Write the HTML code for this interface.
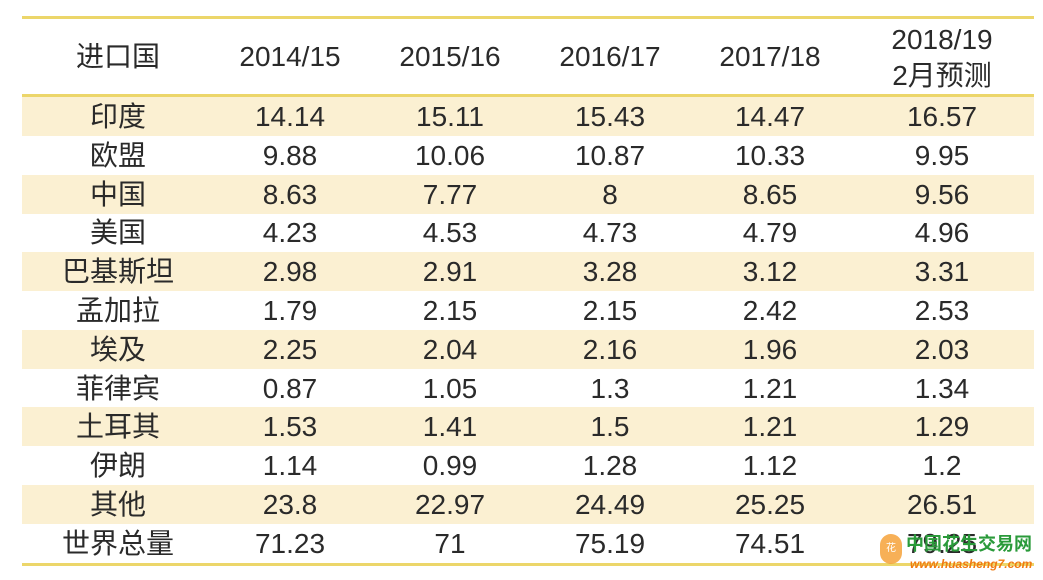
<!DOCTYPE html>
<html><head><meta charset="utf-8"><style>
body{margin:0;width:1043px;height:580px;background:#fff;overflow:hidden;position:relative;font-family:"Liberation Sans","Noto Sans CJK SC",sans-serif;color:#2a2a2a}
.line{position:absolute;left:22px;width:1012px;height:3px;background:#ecd66a}
.row{position:absolute;left:22px;width:1012px;height:39px}
.c{position:absolute;top:0;height:39px;line-height:39px;font-size:28px;text-align:center;transform:translateX(-50%);white-space:nowrap}
.wm{position:absolute;left:906px;top:533px;font-size:18px;font-weight:bold;color:#2a9a3a;line-height:22px;white-space:nowrap}
.wm2{position:absolute;left:910px;top:557px;font-size:12px;font-style:italic;font-weight:bold;color:#f07a10;white-space:nowrap}
.logo{position:absolute;left:880px;top:534px;width:22px;height:30px;border-radius:11px;background:#f6a33a;opacity:.85;color:#fff;font-size:10px;text-align:center;line-height:30px}
</style></head><body>
<div class="line" style="top:16px"></div>
<div class="row" style="top:19px;height:76px">
<div class="c" style="left:96px;height:76px;line-height:76px">进口国</div>
<div class="c" style="left:268px;height:76px;line-height:76px">2014/15</div>
<div class="c" style="left:428px;height:76px;line-height:76px">2015/16</div>
<div class="c" style="left:588px;height:76px;line-height:76px">2016/17</div>
<div class="c" style="left:748px;height:76px;line-height:76px">2017/18</div>
<div class="c" style="left:920px;height:76px;line-height:36px;padding-top:3px">2018/19<br>2月预测</div>
</div>
<div class="line" style="top:94px"></div>
<div id="body"></div>
<div class="line" style="top:563px"></div>
<div class="logo">花</div>
<div class="wm">中国花生交易网</div>
<div class="wm2">www.huasheng7.com</div>
<script>
const countries=["印度","欧盟","中国","美国","巴基斯坦","孟加拉","埃及","菲律宾","土耳其","伊朗","其他","世界总量"];
const y1415=["14.14","9.88","8.63","4.23","2.98","1.79","2.25","0.87","1.53","1.14","23.8","71.23"];
const y1516=["15.11","10.06","7.77","4.53","2.91","2.15","2.04","1.05","1.41","0.99","22.97","71"];
const y1617=["15.43","10.87","8","4.73","3.28","2.15","2.16","1.3","1.5","1.28","24.49","75.19"];
const y1718=["14.47","10.33","8.65","4.79","3.12","2.42","1.96","1.21","1.21","1.12","25.25","74.51"];
const y1819=["16.57","9.95","9.56","4.96","3.31","2.53","2.03","1.34","1.29","1.2","26.51","79.25"];
const cols=[countries,y1415,y1516,y1617,y1718,y1819];
const xs=[96,268,428,588,748,920];
const b=document.getElementById('body');
countries.forEach((c,i)=>{
 const r=document.createElement('div');
 r.className='row';
 
 
 r.style.top=(97+i*38.8)+'px';
 if(i%2===0&&i<11) r.style.background='#fbf0d2';
 cols.forEach((col,j)=>{
  const d=document.createElement('div');
  d.className='c';
  
  
  d.style.left=xs[j]+'px';
  d.textContent=col[i];
  r.appendChild(d);
 });
 b.appendChild(r);
});
</script>
</body></html>
